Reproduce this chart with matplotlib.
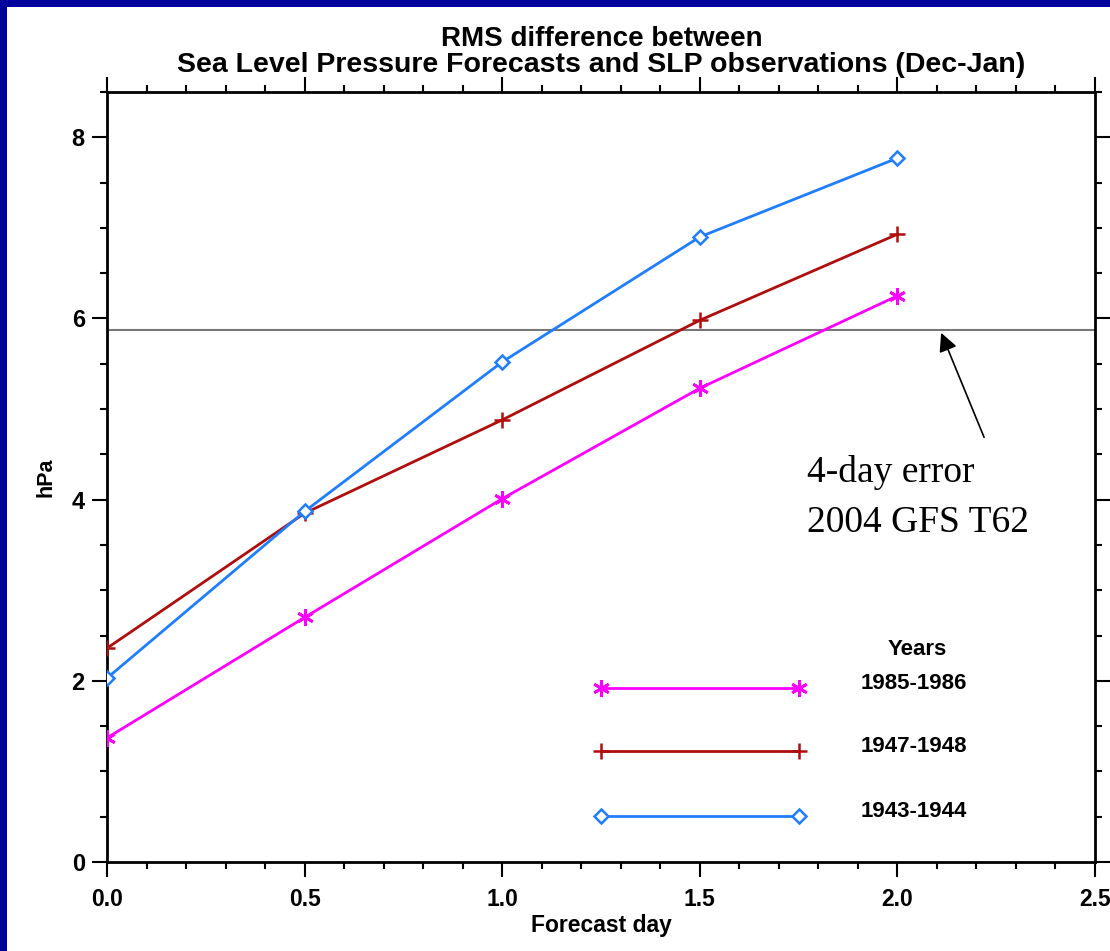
import matplotlib
matplotlib.use('Agg')
import matplotlib.pyplot as plt
from matplotlib.patches import Rectangle
from matplotlib.ticker import MultipleLocator, FormatStrFormatter

# forecast days and RMS error (hPa)
days = [0.0, 0.5, 1.0, 1.5, 2.0]
rms_1985 = [1.37, 2.70, 4.01, 5.23, 6.25]
rms_1947 = [2.36, 3.85, 4.88, 5.98, 6.93]
rms_1943 = [2.03, 3.87, 5.52, 6.90, 7.77]

gfs_4day = 5.87  # 4-day error of 2004 GFS T62

legend_x = [1.25, 1.75]
legend_y = [1.92, 1.23, 0.51]
legend_labels = ['1985-1986', '1947-1948', '1943-1944']

c_mag = '#ff00ff'
c_red = '#b00d0d'
c_blue = '#1f7dff'
navy = '#00009c'

plt.rcParams['font.family'] = ['Liberation Sans', 'DejaVu Sans']

fig = plt.figure(figsize=(11.1, 9.51), dpi=100, facecolor=navy)
fig.patches.append(Rectangle((7 / 1110, 0), 1, (951 - 7) / 951, transform=fig.transFigure,
                             facecolor='white', edgecolor='none', zorder=-10))

ax = fig.add_axes([107 / 1110, (951 - 862) / 951, (1095 - 107) / 1110, (862 - 92) / 951])
ax.set_facecolor('white')

ax.axhline(gfs_4day, color='#777777', lw=1.5, zorder=1)

ast = (6, 2, 0)
ax.plot(days, rms_1985, color=c_mag, lw=2, marker=ast, ms=12, mew=2, zorder=3)
ax.plot(days, rms_1947, color=c_red, lw=2, marker='+', ms=11, mew=1.8, zorder=3)
ax.plot(days, rms_1943, color=c_blue, lw=2, marker='D', ms=7, mew=1.8, mfc='white', zorder=3)

# legend drawn as in the original, inside the axes
styles = [dict(color=c_mag, marker=ast, ms=12, mew=2),
          dict(color=c_red, marker='+', ms=11, mew=1.8),
          dict(color=c_blue, marker='D', ms=7, mew=1.8, mfc='white')]
for y, lab, st in zip(legend_y, legend_labels, styles):
    ax.plot(legend_x, [y, y], lw=2, **st)
    ax.text(1.906, y + 0.05, lab, fontsize=16, fontweight='bold', ha='left', va='center')
ax.text(2.05, 2.35, 'Years', fontsize=16, fontweight='bold', ha='center', va='center')

ax.annotate('', xy=(2.108, gfs_4day), xytext=(2.222, 4.66),
            arrowprops=dict(arrowstyle='-|>', color='black', lw=1.2, mutation_scale=28))
ax.text(1.771, 4.19, '4-day error', fontsize=27, family='Liberation Serif', ha='left', va='baseline')
ax.text(1.771, 3.64, '2004 GFS T62', fontsize=27, family='Liberation Serif', ha='left', va='baseline')

ax.set_xlim(0, 2.5)
ax.set_ylim(0, 8.5)
ax.xaxis.set_major_locator(MultipleLocator(0.5))
ax.xaxis.set_minor_locator(MultipleLocator(0.1))
ax.yaxis.set_major_locator(MultipleLocator(2))
ax.yaxis.set_minor_locator(MultipleLocator(0.5))
ax.xaxis.set_major_formatter(FormatStrFormatter('%.1f'))
ax.tick_params(which='both', direction='out', top=True, right=True, width=1.5, color='black')
ax.tick_params(which='major', length=11, labelsize=16.5)
ax.tick_params(axis='x', which='major', pad=8)
ax.tick_params(axis='y', which='major', pad=5, labelsize=17)
ax.tick_params(which='minor', length=5)
for lab in ax.get_xticklabels() + ax.get_yticklabels():
    lab.set_fontweight('bold')
for sp in ax.spines.values():
    sp.set_linewidth(2)

ax.set_xlabel('Forecast day', fontsize=16.5, fontweight='bold', labelpad=2)
ax.set_ylabel('hPa', fontsize=15.5, fontweight='bold', labelpad=11)

fig.text(0.542, 1 - 39 / 951, 'RMS difference between', fontsize=20, fontweight='bold',
         ha='center', va='center')
fig.text(0.542, 1 - 65 / 951, 'Sea Level Pressure Forecasts and SLP observations (Dec-Jan)',
         fontsize=20.5, fontweight='bold', ha='center', va='center')

fig.savefig('out.png', dpi=100, facecolor=navy)
